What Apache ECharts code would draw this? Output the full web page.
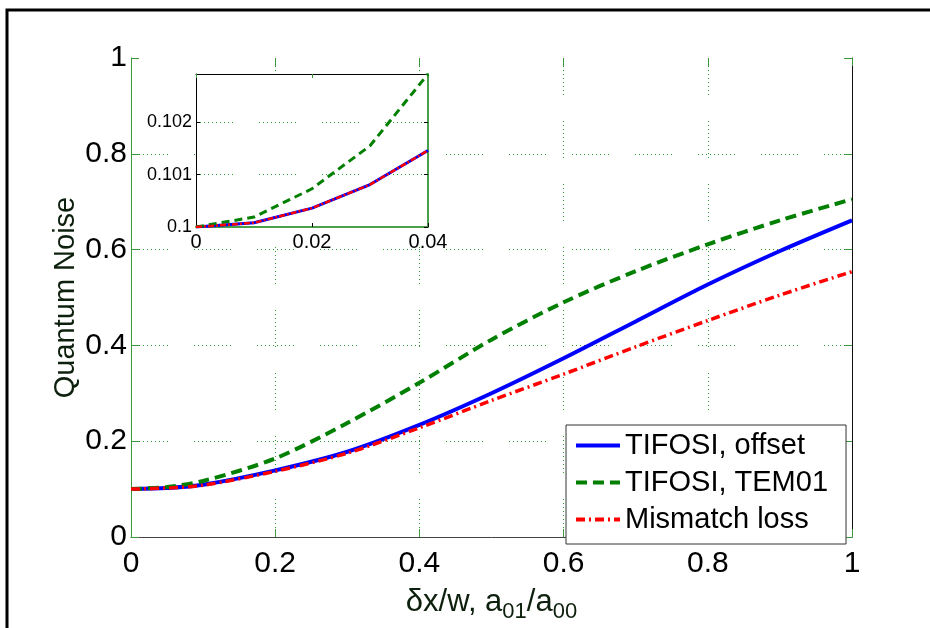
<!DOCTYPE html>
<html>
<head>
<meta charset="utf-8">
<script src="https://cdn.jsdelivr.net/npm/echarts@6/dist/echarts.min.js"></script>
<style>
  html, body { margin: 0; padding: 0; background: #fff; }
  #chart { width: 930px; height: 628px; }
</style>
</head>
<body>
<div id="chart"></div>
<script>
// main plot data
var xMain = [0, 0.05, 0.1, 0.2, 0.3, 0.4, 0.5, 0.6, 0.7, 0.8, 0.9, 1.0];
var offsetNoise = [0.1, 0.1023, 0.109, 0.139, 0.178, 0.234, 0.300, 0.373, 0.450, 0.527, 0.597, 0.661];
var tem01Noise = [0.1, 0.1045, 0.117, 0.164, 0.238, 0.322, 0.412, 0.490, 0.555, 0.611, 0.661, 0.705];
var mismatchNoise = [0.1, 0.1023, 0.108, 0.137, 0.175, 0.228, 0.285, 0.340, 0.397, 0.452, 0.505, 0.554];

// inset (zoom on the start)
var xInset = [0, 0.01, 0.02, 0.03, 0.04];
var offsetInset = [0.1, 0.10008, 0.10036, 0.10081, 0.10146];
var tem01Inset = [0.1, 0.10019, 0.10073, 0.10155, 0.10292];
var mismatchInset = [0.1, 0.10008, 0.10036, 0.10081, 0.10146];

var seriesNames = ['TIFOSI, offset', 'TIFOSI, TEM01', 'Mismatch loss'];
var insetTicksX = [0, 0.02, 0.04];
var insetTicksY = [0.1, 0.101, 0.102];

var FONT = '"Liberation Sans", Arial, sans-serif';
var GREEN_AXIS = '#3a9a3a';
var GRID_GREEN = '#2f9a2f';

// sparse dotted pattern like the matlab grid
var gridDash = [];
for (var k = 0; k < 9; k++) { gridDash.push(1, 3); }
gridDash.push(1, 26);

function pairs(xs, ys) {
  return xs.map(function (x, i) { return [x, ys[i]]; });
}
function fmt(v) { return String(+v.toFixed(3)); }

var chart = echarts.init(document.getElementById('chart'), null, {renderer: 'canvas'});

var option = {
  backgroundColor: '#fff',
  animation: false,
  graphic: [
    {type: 'rect', shape: {x: 7, y: 10, width: 980, height: 700},
      style: {fill: 'none', stroke: '#000', lineWidth: 3}, z: 0},
    {type: 'rect', shape: {x: 196, y: 74, width: 232, height: 153},
      style: {fill: '#fff'}, z: 1}
  ],
  legend: {
    orient: 'vertical',
    left: 566, top: 425,
    padding: [6, 18, 10, 8],
    itemGap: 8,
    itemWidth: 44,
    itemHeight: 14,
    backgroundColor: '#fff',
    borderColor: '#333',
    borderWidth: 1,
    itemStyle: {opacity: 0},
    lineStyle: {width: 4},
    textStyle: {fontFamily: FONT, fontSize: 29, color: '#000'},
    data: seriesNames
  },
  grid: [
    {left: 131, right: 78, top: 58, bottom: 82},
    {left: 196, top: 74, width: 232, height: 153, z: 3}
  ],
  xAxis: [
    {
      type: 'value', gridIndex: 0, min: 0, max: 1, interval: 0.2,
      axisLine: {onZero: false, lineStyle: {color: '#444', width: 1}},
      axisTick: {inside: true, length: 8, lineStyle: {color: GREEN_AXIS}},
      axisLabel: {fontFamily: FONT, fontSize: 30, color: '#000', margin: 12, formatter: fmt},
      splitLine: {show: true, showMinLine: false, showMaxLine: false,
        lineStyle: {color: GRID_GREEN, type: gridDash, width: 1}},
      name: '{n|δx/w, a}{s|01}{n|/a}{s|00}',
      nameLocation: 'middle', nameGap: 44, nameMoveOverlap: false,
      nameTextStyle: {
        fontFamily: FONT, color: '#0d200d',
        rich: {
          n: {fontFamily: FONT, fontSize: 31, color: '#0d200d'},
          s: {fontFamily: FONT, fontSize: 22, color: '#0d200d', padding: [20, 0, 0, 0]}
        }
      }
    },
    {
      type: 'value', gridIndex: 0, min: 0, max: 1, interval: 0.2, position: 'top',
      axisLine: {show: false, onZero: false},
      axisTick: {inside: true, length: 8, lineStyle: {color: GREEN_AXIS}},
      axisLabel: {show: false}, splitLine: {show: false}
    },
    {
      type: 'value', gridIndex: 1, min: 0, max: 0.04, z: 3,
      axisLine: {onZero: false, lineStyle: {color: '#4a9f4a', width: 2}},
      axisTick: {inside: true, length: 4, customValues: insetTicksX, lineStyle: {color: '#000'}},
      axisLabel: {fontFamily: FONT, fontSize: 20, color: '#000', margin: 5,
        customValues: insetTicksX, formatter: fmt},
      splitLine: {show: false}
    },
    {
      type: 'value', gridIndex: 1, min: 0, max: 0.04, position: 'top', z: 3,
      axisLine: {onZero: false, lineStyle: {color: '#000', width: 1}},
      axisTick: {inside: true, length: 4, customValues: insetTicksX, lineStyle: {color: GREEN_AXIS}},
      axisLabel: {show: false}, splitLine: {show: false}
    }
  ],
  yAxis: [
    {
      type: 'value', gridIndex: 0, min: 0, max: 1, interval: 0.2,
      axisLine: {show: true, onZero: false, lineStyle: {color: GREEN_AXIS, width: 1}},
      axisTick: {show: true, inside: true, length: 8, lineStyle: {color: GREEN_AXIS}},
      axisLabel: {fontFamily: FONT, fontSize: 30, color: '#000', margin: 4, formatter: fmt},
      splitLine: {show: true, showMinLine: false, showMaxLine: false,
        lineStyle: {color: GRID_GREEN, type: gridDash, width: 1}},
      name: 'Quantum Noise', nameLocation: 'middle', nameGap: 51, nameMoveOverlap: false,
      nameTextStyle: {fontFamily: FONT, fontSize: 29, color: '#0d200d'}
    },
    {
      type: 'value', gridIndex: 0, min: 0, max: 1, interval: 0.2, position: 'right',
      axisLine: {show: true, onZero: false, lineStyle: {color: '#111', width: 1}},
      axisTick: {show: true, inside: true, length: 8, lineStyle: {color: GREEN_AXIS}},
      axisLabel: {show: false}, splitLine: {show: false}
    },
    {
      type: 'value', gridIndex: 1, min: 0.1, max: 0.10292, z: 3,
      axisLine: {show: true, onZero: false, lineStyle: {color: '#000', width: 1}},
      axisTick: {show: true, inside: true, length: 4, customValues: insetTicksY, lineStyle: {color: '#000'}},
      axisLabel: {fontFamily: FONT, fontSize: 18, color: '#000', margin: 4,
        customValues: insetTicksY, formatter: fmt},
      splitLine: {show: true, showMinLine: false,
        lineStyle: {color: GRID_GREEN, type: gridDash, width: 1}}
    },
    {
      type: 'value', gridIndex: 1, min: 0.1, max: 0.10292, position: 'right', z: 3,
      axisLine: {show: true, onZero: false, lineStyle: {color: '#4a9f4a', width: 2}},
      axisTick: {show: true, inside: true, length: 4, customValues: insetTicksY, lineStyle: {color: '#000'}},
      axisLabel: {show: false}, splitLine: {show: false}
    }
  ],
  series: [
    {name: seriesNames[0], type: 'line', xAxisIndex: 0, yAxisIndex: 0, smooth: 0.3,
      symbol: 'none', data: pairs(xMain, offsetNoise), z: 4,
      lineStyle: {color: '#0000ff', width: 4}, itemStyle: {color: '#0000ff'}},
    {name: seriesNames[1], type: 'line', xAxisIndex: 0, yAxisIndex: 0, smooth: 0.3,
      symbol: 'none', data: pairs(xMain, tem01Noise), z: 4,
      lineStyle: {color: '#007f00', width: 4, type: [11, 6]}, itemStyle: {color: '#007f00'}},
    {name: seriesNames[2], type: 'line', xAxisIndex: 0, yAxisIndex: 0, smooth: 0.3,
      symbol: 'none', data: pairs(xMain, mismatchNoise), z: 4,
      lineStyle: {color: '#ff0000', width: 3.5, type: [9, 4, 2, 4]}, itemStyle: {color: '#ff0000'}},

    {name: 'inset offset', type: 'line', xAxisIndex: 2, yAxisIndex: 2,
      symbol: 'none', data: pairs(xInset, offsetInset), z: 5,
      lineStyle: {color: '#0000ff', width: 3}},
    {name: 'inset tem01', type: 'line', xAxisIndex: 2, yAxisIndex: 2,
      symbol: 'none', data: pairs(xInset, tem01Inset), z: 5,
      lineStyle: {color: '#007f00', width: 3, type: [8, 5]}},
    {name: 'inset mismatch', type: 'line', xAxisIndex: 2, yAxisIndex: 2,
      symbol: 'none', data: pairs(xInset, mismatchInset), z: 6,
      lineStyle: {color: '#ff0000', width: 2.5, type: [6, 2, 2, 2]}}
  ]
};

chart.setOption(option);
</script>
</body>
</html>
